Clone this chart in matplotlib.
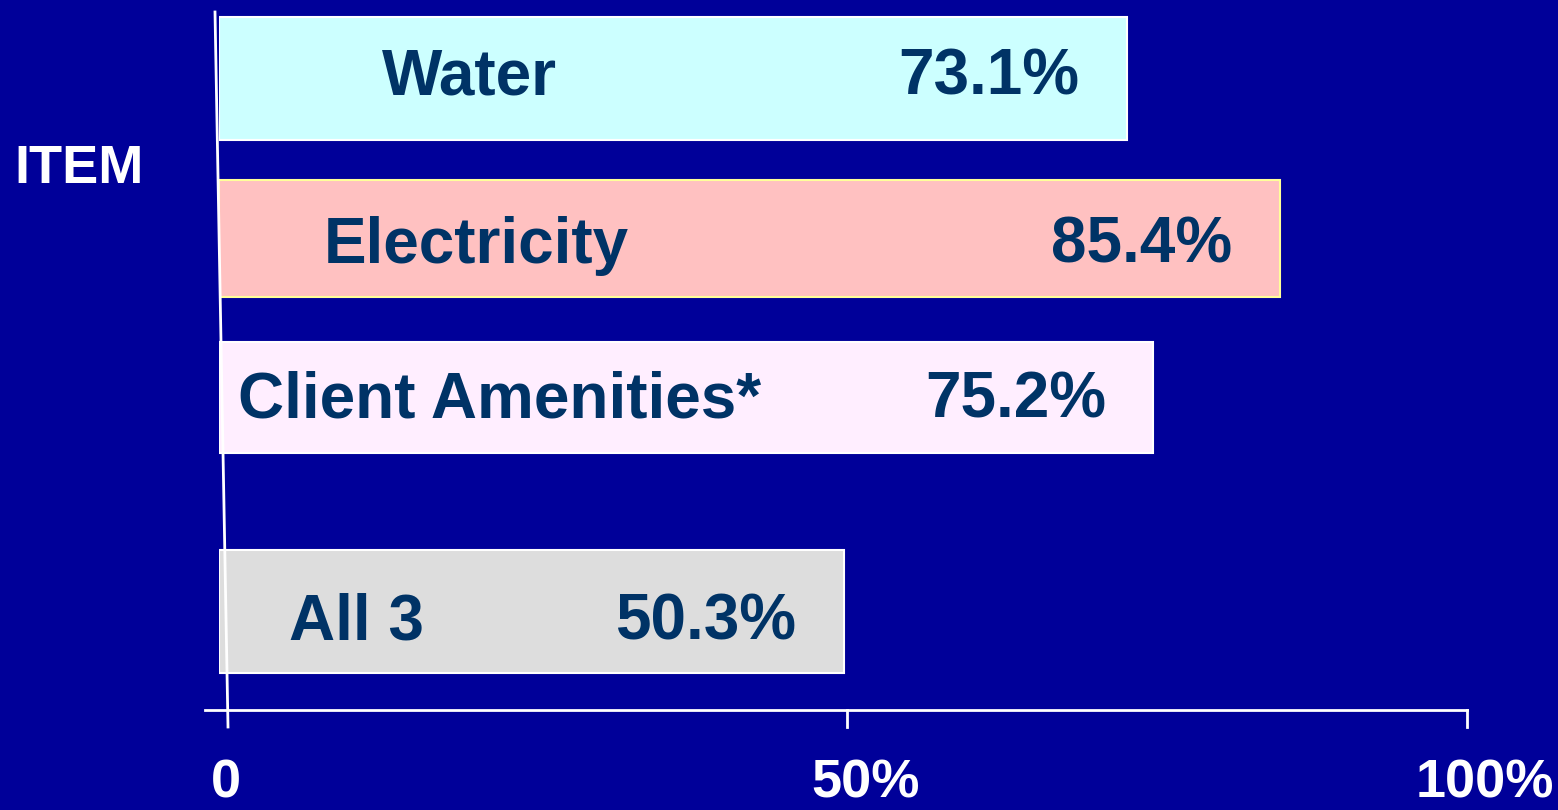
import matplotlib
matplotlib.use("Agg")
import matplotlib.pyplot as plt
import matplotlib.lines as mlines

# ---- data ----
categories = ["Water", "Electricity", "Client Amenities*", "All 3"]
values = [73.1, 85.4, 75.2, 50.3]
value_labels = ["73.1%", "85.4%", "75.2%", "50.3%"]
tick_values = [0, 50, 100]
tick_labels = ["0", "50%", "100%"]
axis_title = "ITEM"

# ---- style / layout ----
BG = "#000099"
TXT = "#003366"
bar_colors = ["#CCFFFF", "#FFC1C1", "#FFEEFF", "#DDDDDD"]
edge_colors = ["white", "#FFFF99", "white", "white"]
bar_pos = [3.947, 2.947, 1.953, 0.616]
bar_h = [0.77, 0.73, 0.69, 0.77]
name_x = [13.1, 8.4, 1.5, 5.6]
text_base_dy = [-0.103, -0.153, -0.128, -0.178]

W, H = 1558, 810
fig = plt.figure(figsize=(W / 100, H / 100), dpi=100, facecolor=BG)
# axes: x 0 at 219px, 100 at 1461px ; y from 710px (bottom) to 12px (top)
ax = fig.add_axes([219 / W, 1 - 710 / H, (1461 - 219) / W, 698 / H])
ax.set_facecolor(BG)
ax.set_xlim(0, 100)
ax.set_ylim(0, 698 / 160)
for s in ax.spines.values():
    s.set_visible(False)
ax.set_xticks([])
ax.set_yticks([])

font = dict(family="Liberation Sans", weight="bold")

for i, (cat, v) in enumerate(zip(categories, values)):
    ax.barh(bar_pos[i], v, height=bar_h[i], left=0, color=bar_colors[i],
            edgecolor=edge_colors[i], linewidth=1.5, zorder=2)
    yb = bar_pos[i] + text_base_dy[i]
    ax.text(name_x[i], yb, cat, ha="left", va="baseline", color=TXT,
            fontsize=46, zorder=3, **font)
    ax.text(v - 3.8, yb, value_labels[i], ha="right", va="baseline", color=TXT,
            fontsize=46, zorder=3, **font)

def fx(px):
    return px / W

def fy(py):
    return 1 - py / H

lw = 2
fig.add_artist(mlines.Line2D([fx(205), fx(1467)], [fy(710), fy(710)],
                             color="white", lw=lw, zorder=5))
# slanted vertical axis
fig.add_artist(mlines.Line2D([fx(215), fx(228)], [fy(12), fy(727)],
                             color="white", lw=lw, zorder=5))

# tick marks and labels
tick_px = [228, 847, 1467]
label_cx = [226, 866, 1485]
for tv, tl, tp, lc in zip(tick_values, tick_labels, tick_px, label_cx):
    if tv != 0:
        fig.add_artist(mlines.Line2D([fx(tp), fx(tp)], [fy(710), fy(727)],
                                     color="white", lw=lw, zorder=5))
    fig.text(fx(lc), fy(798), tl, ha="center", va="baseline", color="white",
             fontsize=39, **font)

fig.text(fx(14), fy(183), axis_title, ha="left", va="baseline", color="white",
         fontsize=39, **font)

fig.savefig("out.png", dpi=100, facecolor=BG)
